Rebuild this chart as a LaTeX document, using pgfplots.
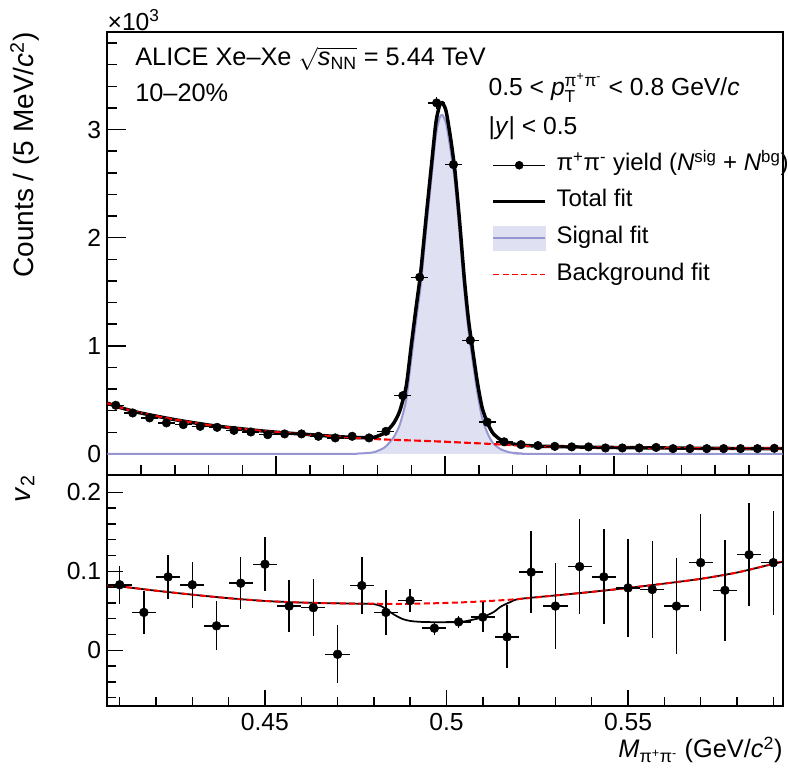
\documentclass[border=0pt]{standalone}
\usepackage{pgfplots}
\pgfplotsset{compat=1.18}
\usepackage{pgfplotstable}
\usepackage{amsmath}
\usepackage{fontspec}
\setmainfont{Liberation Sans}

\definecolor{sigfill}{RGB}{224,224,243}
\definecolor{sigline}{RGB}{150,150,210}

% invariant-mass spectrum (counts in units of 10^3)
\pgfplotstableread{
x y ex ey
0.4025 0.450 0.0025 0.02
0.4075 0.379 0.0025 0.02
0.4125 0.333 0.0025 0.02
0.4175 0.287 0.0025 0.02
0.4225 0.271 0.0025 0.02
0.4275 0.255 0.0025 0.02
0.4325 0.246 0.0025 0.02
0.4375 0.218 0.0025 0.02
0.4425 0.203 0.0025 0.02
0.4475 0.178 0.0025 0.02
0.4525 0.185 0.0025 0.02
0.4575 0.185 0.0025 0.02
0.4625 0.163 0.0025 0.02
0.4675 0.148 0.0025 0.02
0.4725 0.163 0.0025 0.02
0.4775 0.148 0.0025 0.02
0.4825 0.209 0.0025 0.02
0.4875 0.539 0.0025 0.023
0.4925 1.634 0.0025 0.040
0.4975 3.247 0.0025 0.057
0.5025 2.676 0.0025 0.052
0.5075 1.051 0.0025 0.032
0.5125 0.294 0.0025 0.02
0.5175 0.112 0.0025 0.02
0.5225 0.086 0.0025 0.02
0.5275 0.077 0.0025 0.02
0.5325 0.070 0.0025 0.02
0.5375 0.065 0.0025 0.02
0.5425 0.065 0.0025 0.02
0.5475 0.055 0.0025 0.02
0.5525 0.055 0.0025 0.02
0.5575 0.055 0.0025 0.02
0.5625 0.060 0.0025 0.02
0.5675 0.049 0.0025 0.02
0.5725 0.049 0.0025 0.02
0.5775 0.049 0.0025 0.02
0.5825 0.049 0.0025 0.02
0.5875 0.049 0.0025 0.02
0.5925 0.049 0.0025 0.02
0.5975 0.052 0.0025 0.02
}\massdata

\pgfplotstableread{
x y
0.4000 0
0.4681 0
0.4745 0.004
0.4788 0.015
0.4821 0.060
0.4847 0.150
0.4866 0.270
0.4885 0.500
0.4900 0.880
0.4915 1.250
0.4928 1.560
0.4944 2.070
0.4960 2.560
0.4973 2.950
0.4984 3.110
0.4992 3.135
0.5003 3.060
0.5016 2.820
0.5029 2.520
0.5043 2.050
0.5057 1.520
0.5069 1.150
0.5080 0.900
0.5096 0.560
0.5110 0.330
0.5126 0.190
0.5142 0.100
0.5164 0.045
0.5191 0.015
0.5228 0.004
0.5282 0
0.6000 0
}\sigfit

\pgfplotstableread{
x y
0.4000 0.470
0.4037 0.430
0.4090 0.385
0.4144 0.350
0.4198 0.318
0.4252 0.290
0.4305 0.265
0.4359 0.245
0.4413 0.227
0.4467 0.210
0.4520 0.196
0.4574 0.184
0.4628 0.172
0.4682 0.160
0.4735 0.149
0.4789 0.138
0.4843 0.131
0.4897 0.125
0.4950 0.119
0.5004 0.112
0.5058 0.104
0.5112 0.096
0.5166 0.087
0.5219 0.078
0.5273 0.072
0.5327 0.068
0.5434 0.062
0.5542 0.058
0.5649 0.055
0.5757 0.052
0.5864 0.050
0.6000 0.050
}\bgfit

\pgfplotstableread{
x y
0.4000 0.470
0.4037 0.430
0.4090 0.385
0.4144 0.350
0.4198 0.318
0.4252 0.290
0.4305 0.265
0.4359 0.245
0.4413 0.227
0.4467 0.210
0.4520 0.196
0.4574 0.184
0.4628 0.172
0.4681 0.160
0.4745 0.151
0.4788 0.153
0.4821 0.194
0.4847 0.280
0.4866 0.398
0.4885 0.626
0.4900 1.005
0.4915 1.373
0.4928 1.682
0.4944 2.190
0.4960 2.678
0.4973 3.066
0.4984 3.225
0.4992 3.249
0.5003 3.172
0.5016 2.930
0.5029 2.628
0.5043 2.156
0.5057 1.624
0.5069 1.252
0.5080 1.001
0.5096 0.658
0.5110 0.426
0.5126 0.283
0.5142 0.191
0.5164 0.132
0.5191 0.098
0.5228 0.081
0.5282 0.071
0.5327 0.068
0.5434 0.062
0.5542 0.058
0.5649 0.055
0.5757 0.052
0.5864 0.050
0.6000 0.050
}\totfit

% v2 versus mass
\pgfplotstableread{
x y ex ey
0.41000 0.083 0.00333 0.024
0.41667 0.048 0.00333 0.027
0.42333 0.093 0.00333 0.028
0.43000 0.083 0.00333 0.029
0.43667 0.031 0.00333 0.031
0.44333 0.085 0.00333 0.033
0.45000 0.109 0.00333 0.034
0.45667 0.056 0.00333 0.033
0.46333 0.054 0.00333 0.036
0.47000 -0.005 0.00333 0.037
0.47667 0.082 0.00333 0.036
0.48333 0.048 0.00333 0.029
0.49000 0.063 0.00333 0.015
0.49667 0.028 0.00333 0.008
0.50333 0.036 0.00333 0.0075
0.51000 0.042 0.00333 0.019
0.51667 0.017 0.00333 0.040
0.52333 0.099 0.00333 0.052
0.53000 0.056 0.00333 0.054
0.53667 0.106 0.00333 0.060
0.54333 0.093 0.00333 0.060
0.55000 0.079 0.00333 0.0625
0.55667 0.077 0.00333 0.061
0.56333 0.056 0.00333 0.061
0.57000 0.111 0.00333 0.061
0.57667 0.076 0.00333 0.064
0.58333 0.121 0.00333 0.065
0.59000 0.111 0.00333 0.066
}\vtwodata

\pgfplotstableread{
x y
0.4066 0.0825
0.4100 0.0810
0.4200 0.0755
0.4300 0.0705
0.4400 0.0660
0.4500 0.0625
0.4600 0.0605
0.4700 0.0595
0.4800 0.0590
0.4900 0.0590
0.5000 0.0600
0.5100 0.0620
0.5200 0.0650
0.5300 0.0695
0.5400 0.0740
0.5500 0.0790
0.5600 0.0845
0.5700 0.0905
0.5800 0.0985
0.5900 0.1095
0.5926 0.1125
}\vtwobg

\pgfplotstableread{
x y
0.4066 0.0825
0.4100 0.0810
0.4200 0.0755
0.4300 0.0705
0.4400 0.0660
0.4500 0.0625
0.4600 0.0605
0.4700 0.0595
0.4767 0.0590
0.4800 0.0585
0.4820 0.0560
0.4840 0.0500
0.4860 0.0440
0.4880 0.0395
0.4900 0.0372
0.4930 0.0360
0.4990 0.0355
0.5040 0.0360
0.5075 0.0390
0.5100 0.0420
0.5130 0.0485
0.5150 0.0555
0.5175 0.0610
0.5200 0.0650
0.5300 0.0695
0.5400 0.0740
0.5500 0.0790
0.5600 0.0845
0.5700 0.0905
0.5800 0.0985
0.5900 0.1095
0.5926 0.1125
}\vtwotot

\pgfplotsset{
  rootpad/.style={
    scale only axis, width=506.55pt,
    tick align=inside, tick pos=left,
    axis line style={line width=1.5pt},
    tick style={black, line width=1.1pt},
    tick label style={font=\fontsize{18.5}{22}\selectfont},
    label style={font=\fontsize{21}{24}\selectfont, inner sep=0pt},
    /pgf/number format/assume math mode=true,
    y tick label style={inner xsep=0pt, xshift=-4.5pt},
    x tick label style={inner ysep=0pt, yshift=-5.2pt},
    xtick={0.45,0.5,0.55},
    minor xtick={0.41,0.42,0.43,0.44,0.46,0.47,0.48,0.49,0.51,0.52,0.53,0.54,0.56,0.57,0.58,0.59},
    clip mode=individual,
  }
}

\begin{document}
\begin{tikzpicture}
\useasboundingbox (0,0) rectangle (591pt,580.5pt);

% upper pad: invariant mass
\begin{axis}[rootpad,
  at={(80.5pt,224.25pt)}, anchor=south west, height=332pt,
  xmin=0.4, xmax=0.6, ymin=-0.195, ymax=3.9,
  xticklabels={},
  ytick={0,1,2,3},
  minor ytick={0.2,0.4,0.6,0.8,1.2,1.4,1.6,1.8,2.2,2.4,2.6,2.8,3.2,3.4,3.6,3.8},
  major tick length=14pt, minor tick length=7.5pt,
  ylabel={Counts / (5 MeV/\textit{c}\textsuperscript{2})},
  ylabel style={at={(rel axis cs:-0.122,1)}, anchor=east},
  legend cell align=left,
  legend style={draw=none, fill=none, at={(rel axis cs:0.569,0.7267)}, anchor=north west,
    inner sep=0pt, row sep=9.5pt, column sep=7.5pt,
    font=\fontsize{18}{21}\selectfont,
    nodes={inner sep=0pt, text height=13pt, text depth=4.5pt}},
]
\addlegendimage{legend image code/.code={
  \draw[black, line width=0.8pt] (0pt,0pt) -- (38.7pt,0pt);
  \fill[black] (19.35pt,0pt) circle (3pt);}}
\addlegendimage{legend image code/.code={
  \draw[black, line width=2.25pt] (0pt,0pt) -- (38.7pt,0pt);}}
\addlegendimage{legend image code/.code={
  \fill[sigfill] (0pt,-9pt) rectangle (38.7pt,9pt);
  \draw[sigline, line width=1.5pt] (0pt,0pt) -- (38.7pt,0pt);}}
\addlegendimage{legend image code/.code={
  \draw[red, line width=1.4pt, dash pattern=on 4.5pt off 2.5pt] (0pt,0pt) -- (38.7pt,0pt);}}
\legend{π\textsuperscript{+}π\textsuperscript{-} yield (\textit{N}\textsuperscript{sig} + \textit{N}\textsuperscript{bg}),
  Total fit, Signal fit, Background fit}

\addplot[forget plot, fill=sigfill, draw=sigline, line width=1.5pt, smooth, tension=0.4] table[x=x, y=y] {\sigfit};
\addplot[forget plot, black, line width=2.6pt, smooth, tension=0.4] table[x=x, y=y] {\totfit};
\addplot[forget plot, red, line width=1.6pt, dash pattern=on 5pt off 2.5pt, smooth] table[x=x, y=y] {\bgfit};
\addplot[forget plot, black, only marks, mark=*, mark size=3.2pt,
  error bars/.cd, x dir=both, x explicit, y dir=both, y explicit,
  error mark=none, error bar style={line width=1.1pt}]
  table[x=x, y=y, x error=ex, y error=ey] {\massdata};

\node[anchor=base west, inner sep=0pt] at (rel axis cs:0,1) [yshift=1.7pt]
  {\fontsize{18.5}{22}\selectfont ×10\textsuperscript{3}};
\node[anchor=base west, inner sep=0pt, font=\fontsize{19}{22}\selectfont] at (rel axis cs:0.041,0.926)
  {ALICE Xe–Xe $\sqrt{\textit{s}_{\text{NN}}}$ = 5.44 TeV};
\node[anchor=base west, inner sep=0pt, font=\fontsize{19}{22}\selectfont] at (rel axis cs:0.041,0.843)
  {10–20\%};
\node[anchor=base west, inner sep=0pt, font=\fontsize{18.5}{22}\selectfont] at (rel axis cs:0.5641,0.8584)
  {0.5 < $\textit{p}_{\text{T}}^{\text{π}^{\text{+}}\text{π}^{\text{-}}}$ < 0.8 GeV/\textit{c}};
\node[anchor=base west, inner sep=0pt, font=\fontsize{18.5}{22}\selectfont] at (rel axis cs:0.5641,0.7702)
  {|\textit{y}| < 0.5};
\end{axis}

% lower pad: v2
\begin{axis}[rootpad,
  at={(80.5pt,51pt)}, anchor=south west, height=173.25pt,
  xmin=0.4066, xmax=0.5926, ymin=-0.0705, ymax=0.222,
  ytick={0,0.1,0.2},
  minor ytick={-0.06,-0.04,-0.02,0.02,0.04,0.06,0.08,0.12,0.14,0.16,0.18},
  major tick length=12pt, minor tick length=6.5pt,
  ylabel={\textit{v}\textsubscript{2}},
  ylabel style={at={(rel axis cs:-0.122,1)}, anchor=east},
  xlabel={\textit{M}$_{\text{π}^{\text{+}}\text{π}^{\text{-}}}$ (GeV/\textit{c}\textsuperscript{2})},
  xlabel style={at={(rel axis cs:1,0)}, anchor=north east, yshift=-23pt, font=\fontsize{19}{22}\selectfont},
]
\addplot[black, line width=1.3pt, smooth, tension=0.4] table[x=x, y=y] {\vtwotot};
\addplot[red, line width=1.5pt, dash pattern=on 4.5pt off 2.5pt, smooth] table[x=x, y=y] {\vtwobg};
\addplot[black, only marks, mark=*, mark size=3.3pt,
  error bars/.cd, x dir=both, x explicit, y dir=both, y explicit,
  error mark=none, error bar style={line width=1.1pt}]
  table[x=x, y=y, x error=ex, y error=ey] {\vtwodata};
\end{axis}
\end{tikzpicture}
\end{document}
